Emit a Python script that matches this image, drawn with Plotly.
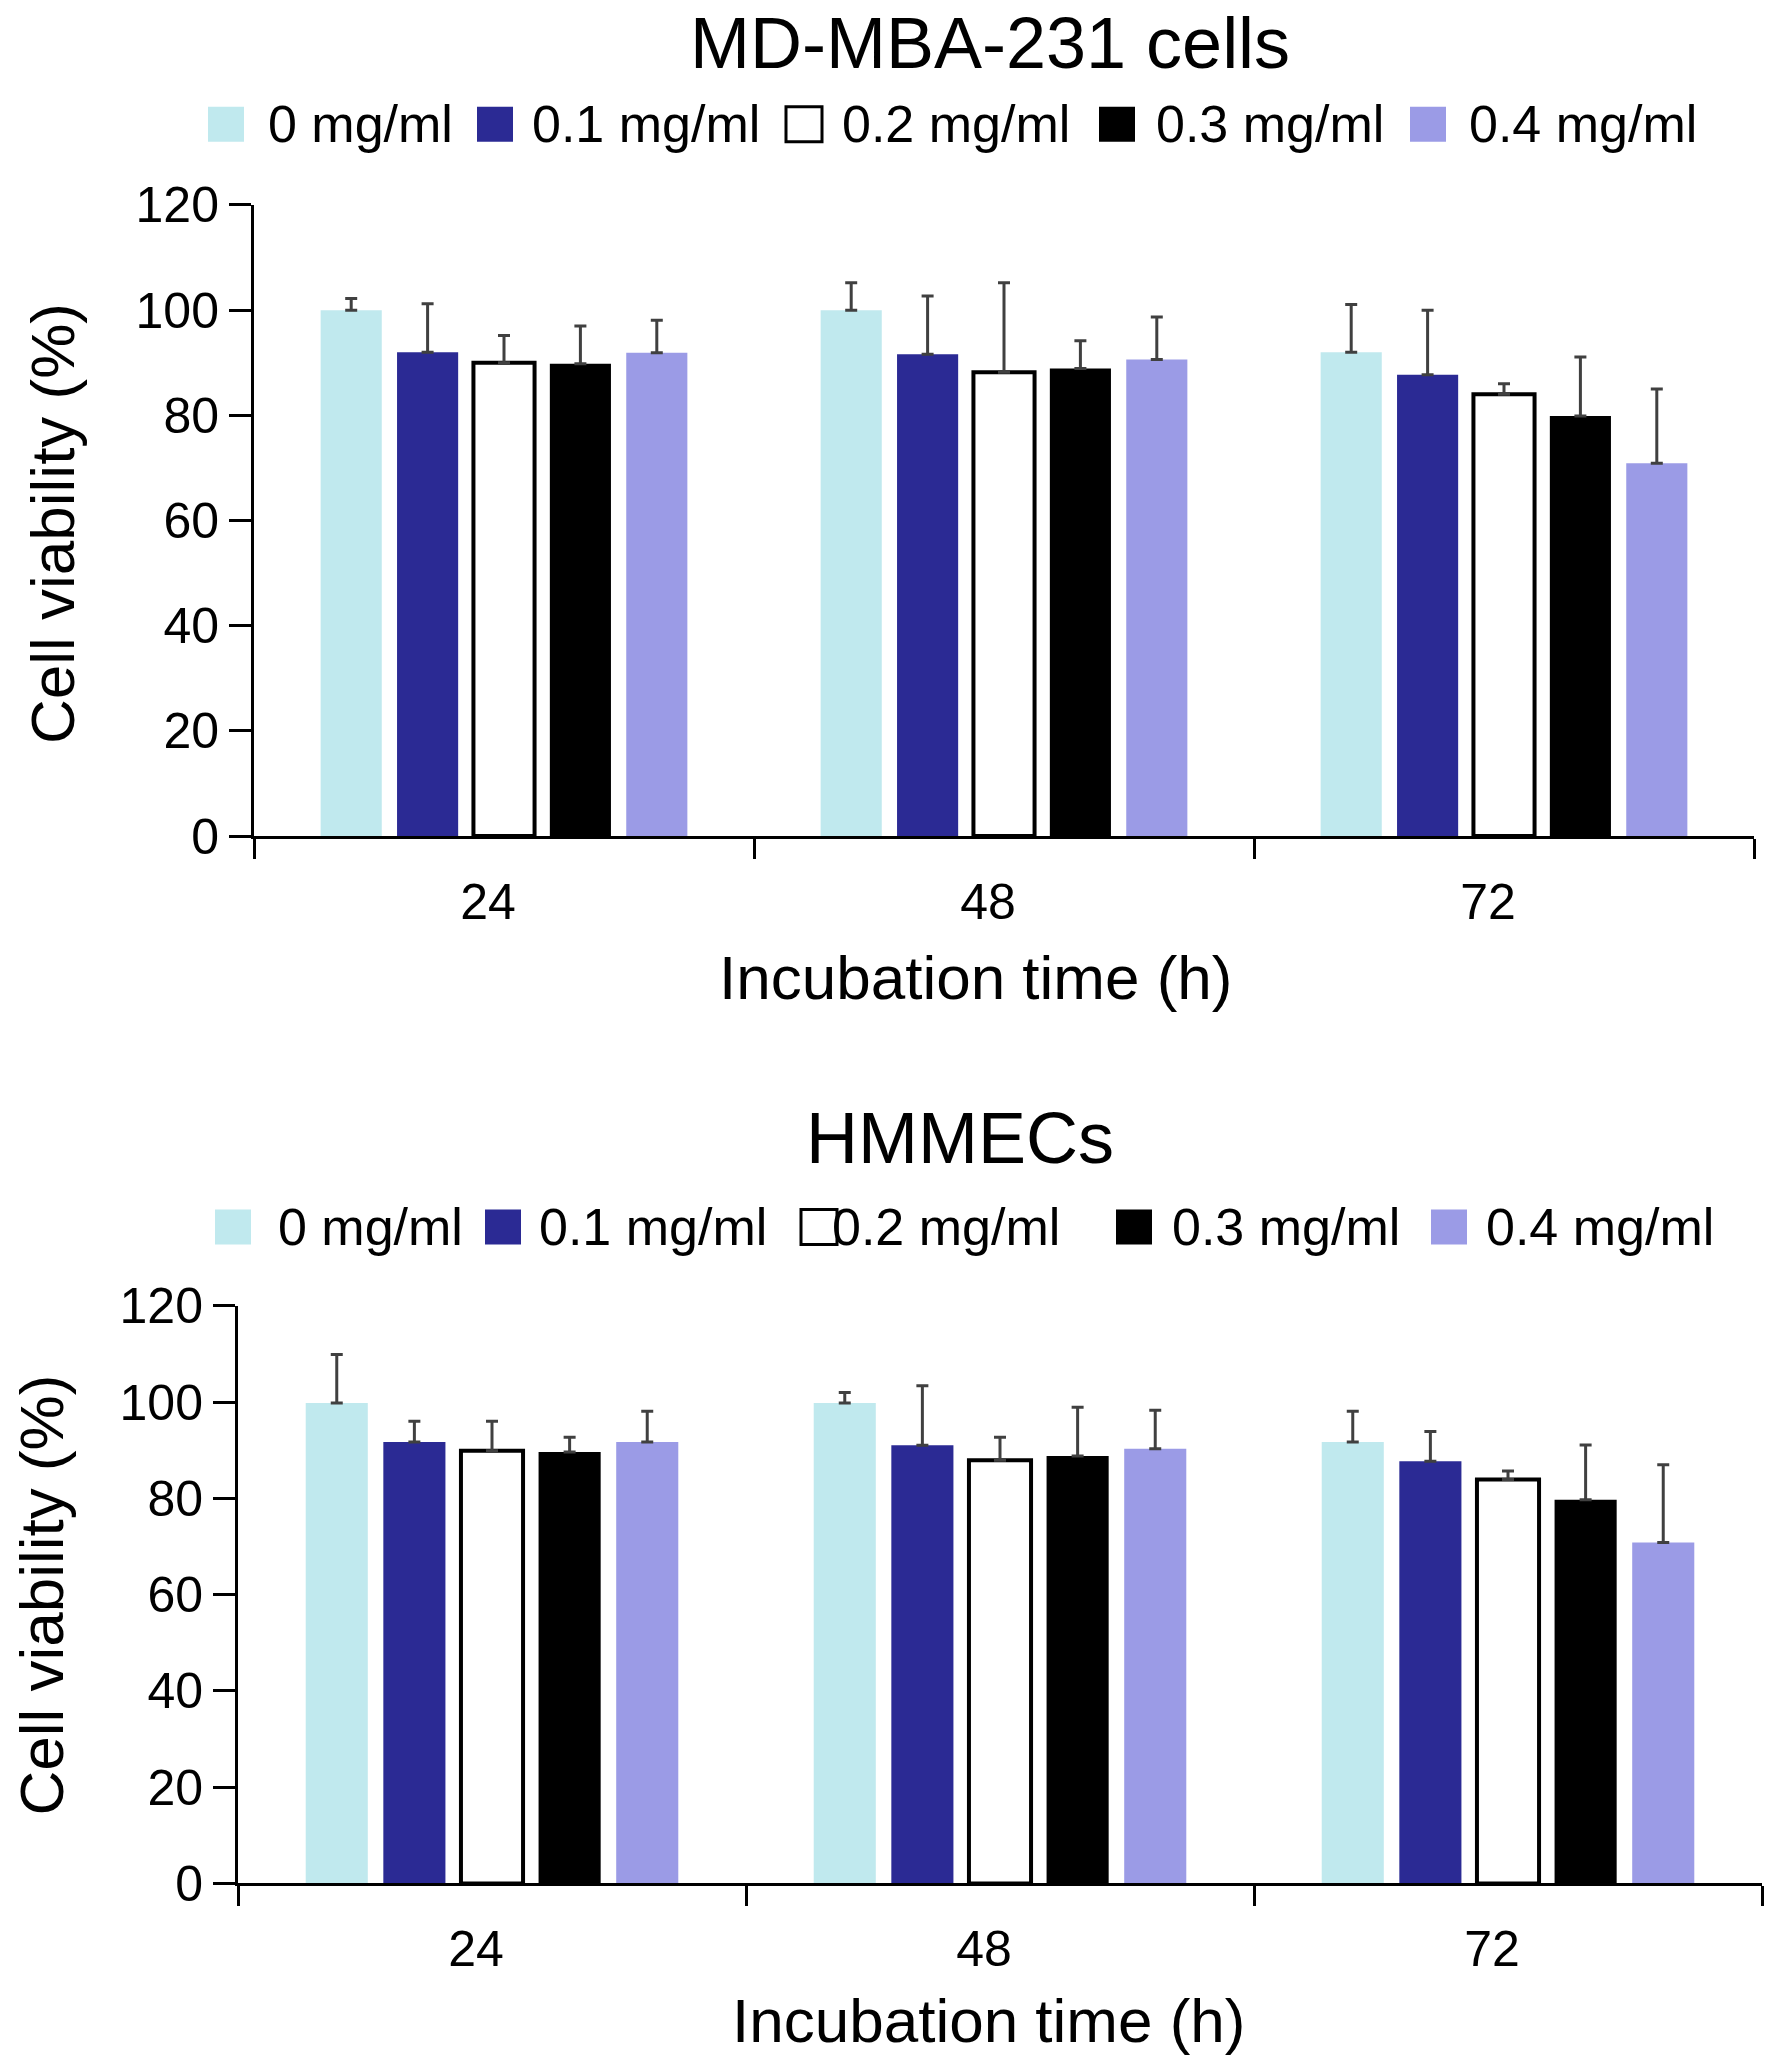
import plotly.graph_objects as go

# incubation time categories
times = ["24", "48", "72"]
doses = ["0 mg/ml", "0.1 mg/ml", "0.2 mg/ml", "0.3 mg/ml", "0.4 mg/ml"]

# MD-MBA-231 cells: mean viability (%) and upper error per dose
mda_0 = [100, 100, 92]
mda_01 = [92, 91.6, 87.7]
mda_02 = [90, 88.2, 84]
mda_03 = [89.8, 88.9, 79.9]
mda_04 = [91.9, 90.6, 70.9]
mda_err_0 = [2.2, 5.2, 9.1]
mda_err_01 = [9.2, 11.1, 12.3]
mda_err_02 = [5.2, 17, 2]
mda_err_03 = [7.2, 5.3, 11.2]
mda_err_04 = [6.2, 8.1, 14.1]

# HMMECs
hm_0 = [99.8, 99.8, 91.7]
hm_01 = [91.7, 91, 87.7]
hm_02 = [89.9, 87.9, 83.9]
hm_03 = [89.6, 88.8, 79.7]
hm_04 = [91.7, 90.3, 70.8]
hm_err_0 = [10.1, 2.2, 6.4]
hm_err_01 = [4.3, 12.4, 6.2]
hm_err_02 = [6.1, 4.8, 1.8]
hm_err_03 = [3.1, 10.1, 11.4]
hm_err_04 = [6.4, 8, 16.2]

W, H = 1772, 2068
FONT = "Liberation Sans, Arial, sans-serif"
fills = ["#c0e9ee", "#2b2a94", "#ffffff", "#000000", "#9b9be6"]
lines = [0, 0, 4, 0, 0]


def px(x, y):
    return x / W, 1 - y / H


def text_at(x, y, s, size, **kw):
    fx, fy = px(x, y)
    kw.setdefault("xanchor", "center")
    fig.add_annotation(text=s, x=fx, y=fy, xref="paper", yref="paper",
                       showarrow=False, yanchor="middle",
                       font=dict(family=FONT, size=size, color="#000"), **kw)


fig = go.Figure()

panels = [
    dict(vals=[mda_0, mda_01, mda_02, mda_03, mda_04],
         errs=[mda_err_0, mda_err_01, mda_err_02, mda_err_03, mda_err_04],
         xdom=(254, 1754), ydom=(182, 831), ax="",
         title="MD-MBA-231 cells", title_xy=(990, 15),
         xt_xy=(975, 976), yt_xy=(53, 510)),
    dict(vals=[hm_0, hm_01, hm_02, hm_03, hm_04],
         errs=[hm_err_0, hm_err_01, hm_err_02, hm_err_03, hm_err_04],
         xdom=(238, 1762), ydom=(1314, 1908), ax="2",
         title="HMMECs", title_xy=(960, 1141),
         xt_xy=(988, 2049), yt_xy=(42, 1612)),
]

for p in panels:
    for i, dose in enumerate(doses):
        fig.add_trace(go.Bar(
            x=times, y=p["vals"][i], name=dose, showlegend=False,
            marker=dict(color=fills[i], line=dict(color="#000", width=lines[i])),
            error_y=dict(type="data", symmetric=False, array=p["errs"][i],
                         arrayminus=[0] * len(times), color="#404040",
                         thickness=3, width=6),
            xaxis="x" + p["ax"], yaxis="y" + p["ax"],
        ))

axis_common = dict(showline=True, linecolor="#000", linewidth=3,
                   ticks="outside", tickwidth=3, tickcolor="#000",
                   showgrid=False, zeroline=False,
                   tickfont=dict(family=FONT, size=50, color="#000"))

for p in panels:
    x0, _ = px(p["xdom"][0], 0)
    x1, _ = px(p["xdom"][1], 0)
    _, y1 = px(0, p["ydom"][0])
    _, y0 = px(0, p["ydom"][1])
    a = p["ax"]
    fig.update_layout(**{
        "xaxis" + a: dict(axis_common, domain=[x0, x1], anchor="y" + a,
                          type="category", range=[-0.5, 2.5],
                          tickson="boundaries", ticklen=20,
                          ticklabelstandoff=20, ticklabelshift=-16),
        "yaxis" + a: dict(axis_common, domain=[y0, y1], anchor="x" + a,
                          range=[0, 120], dtick=20, ticklen=22),
    })
    text_at(*p["title_xy"], p["title"], 72)
    text_at(*p["xt_xy"], "Incubation time (h)", 62)
    text_at(*p["yt_xy"], "Cell viability (%)", 62, textangle=-90)

# hand-drawn legends (large square swatches like the original)
legend_rows = [
    dict(cy=99, sq=[208, 477, 786, 1099, 1410], tx=[266, 530, 840, 1154, 1467]),
    dict(cy=1233, sq=[215, 485, 801, 1116, 1431], tx=[276, 537, 830, 1170, 1484]),
]
S = 36
for row in legend_rows:
    for i, dose in enumerate(doses):
        sx0, sy1 = px(row["sq"][i], row["cy"] - S / 2)
        sx1, sy0 = px(row["sq"][i] + S, row["cy"] + S / 2)
        fig.add_shape(type="rect", xref="paper", yref="paper",
                      x0=sx0, x1=sx1, y0=sy0, y1=sy1, fillcolor=fills[i],
                      line=dict(color="#000", width=min(lines[i], 3)))
        text_at(row["tx"][i], row["cy"], dose, 52, xanchor="left")

fig.update_layout(
    width=W, height=H, margin=dict(l=0, r=0, t=0, b=0),
    plot_bgcolor="white", paper_bgcolor="white",
    barmode="group", bargap=0.236, bargroupgap=0.2,
    showlegend=False,
)

fig.write_html("out.html", config={"displayModeBar": False},
               post_script="document.body.style.margin='0px';")
